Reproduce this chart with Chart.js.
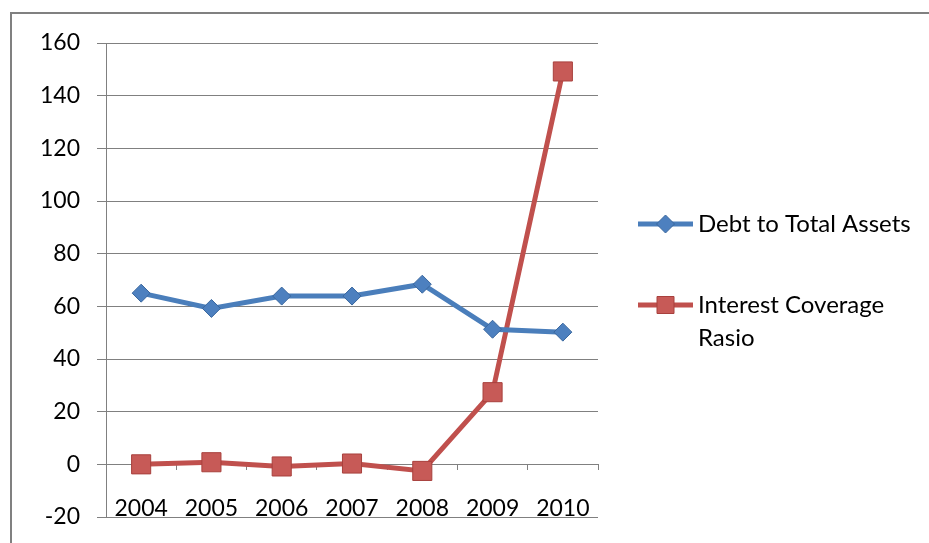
<!DOCTYPE html>
<html>
<head>
<meta charset="utf-8">
<script src="https://cdn.jsdelivr.net/npm/chart.js@4.4.0/dist/chart.umd.min.js"></script>
<style>
  html, body { margin: 0; padding: 0; background: #fff; }
  #wrap { position: relative; width: 929px; height: 543px; overflow: hidden; }
  #frame { position: absolute; left: 10px; top: 12px; width: 930px; height: 540px;
           border-top: 2px solid #808080; border-left: 2px solid #808080; }
  #chart { position: absolute; left: 0; top: 0; }
</style>
</head>
<body>
<div id="wrap">
  <div id="frame"></div>
  <canvas id="chart" width="929" height="543"></canvas>
</div>
<script>
  const years = ['2004', '2005', '2006', '2007', '2008', '2009', '2010'];
  const debtToTotalAssets = [65, 59.2, 63.9, 63.9, 68.4, 51.3, 50.2];
  const interestCoverage = [0, 0.8, -0.8, 0.3, -2.5, 27.4, 149.2];
  const yTicks = [-20, 0, 20, 40, 60, 80, 100, 120, 140, 160];

  const FONT = { family: 'Lato', size: 23 };
  const LEGEND_FONT = '24px Lato';
  const GRID = '#808080';

  // legend drawn on the right, with wrapping like the original
  const sideLegend = {
    id: 'sideLegend',
    afterDraw(chart) {
      const ctx = chart.ctx;
      const rowsY = [224, 305];
      const x0 = 638, x1 = 693, textX = 698, maxW = 225, lineH = 33;
      ctx.save();
      chart.data.datasets.forEach((ds, i) => {
        const y = rowsY[i];
        ctx.strokeStyle = ds.borderColor;
        ctx.lineWidth = ds.borderWidth;
        ctx.beginPath();
        ctx.moveTo(x0, y);
        ctx.lineTo(x1, y);
        ctx.stroke();

        const cx = (x0 + x1) / 2;
        ctx.fillStyle = ds.pointBackgroundColor;
        ctx.strokeStyle = ds.pointBorderColor;
        ctx.lineWidth = 1;
        ctx.beginPath();
        if (ds.pointStyle === 'rectRot') {
          const r = ds.pointRadius;
          ctx.moveTo(cx - r, y); ctx.lineTo(cx, y - r);
          ctx.lineTo(cx + r, y); ctx.lineTo(cx, y + r);
          ctx.closePath();
        } else {
          const h = 8.5;
          ctx.rect(cx - h, y - h, 2 * h, 2 * h);
        }
        ctx.fill();
        ctx.stroke();

        ctx.font = LEGEND_FONT;
        ctx.fillStyle = '#000';
        ctx.textBaseline = 'middle';
        const words = ds.label.split(' ');
        const lines = [];
        let cur = '';
        words.forEach(w => {
          const t = cur ? cur + ' ' + w : w;
          if (ctx.measureText(t).width > maxW && cur) { lines.push(cur); cur = w; }
          else cur = t;
        });
        lines.push(cur);
        lines.forEach((l, k) => ctx.fillText(l, textX, y + k * lineH));
      });
      ctx.restore();
    }
  };

  new Chart(document.getElementById('chart'), {
    type: 'line',
    data: {
      labels: years,
      datasets: [
        {
          label: 'Debt to Total Assets',
          data: debtToTotalAssets,
          borderColor: '#4a7ebb',
          borderWidth: 5,
          pointStyle: 'rectRot',
          pointRadius: 9,
          pointBorderWidth: 1,
          pointBackgroundColor: '#4d80bf',
          pointBorderColor: '#3a679e',
          tension: 0
        },
        {
          label: 'Interest Coverage Rasio',
          data: interestCoverage,
          borderColor: '#c0504d',
          borderWidth: 5,
          pointStyle: 'rect',
          pointRadius: 13.5,
          pointBorderWidth: 1,
          pointBackgroundColor: '#c75a57',
          pointBorderColor: '#a8403d',
          tension: 0
        }
      ]
    },
    options: {
      responsive: false,
      animation: false,
      devicePixelRatio: 1,
      layout: { padding: { left: 0, right: 331, top: 43, bottom: 26 } },
      plugins: { legend: { display: false }, tooltip: { enabled: false } },
      scales: {
        x: {
          type: 'category',
          position: { y: 0 },
          offset: true,
          grid: { offset: true, drawOnChartArea: false, drawTicks: true, tickLength: 5, color: GRID },
          border: { display: true, color: GRID, width: 1 },
          ticks: { font: FONT, color: '#000', padding: 25, maxRotation: 0 }
        },
        y: {
          min: -20,
          max: 160,
          afterBuildTicks: s => { s.ticks = yTicks.map(v => ({ value: v })); },
          afterFit: s => { s.width = 106; s.paddingTop = 0; s.paddingBottom = 0; },
          grid: { color: GRID, tickLength: 9, lineWidth: 1 },
          border: { display: true, color: GRID, width: 1 },
          ticks: { font: FONT, color: '#000', padding: 17 }
        }
      }
    },
    plugins: [sideLegend]
  });
</script>
</body>
</html>
